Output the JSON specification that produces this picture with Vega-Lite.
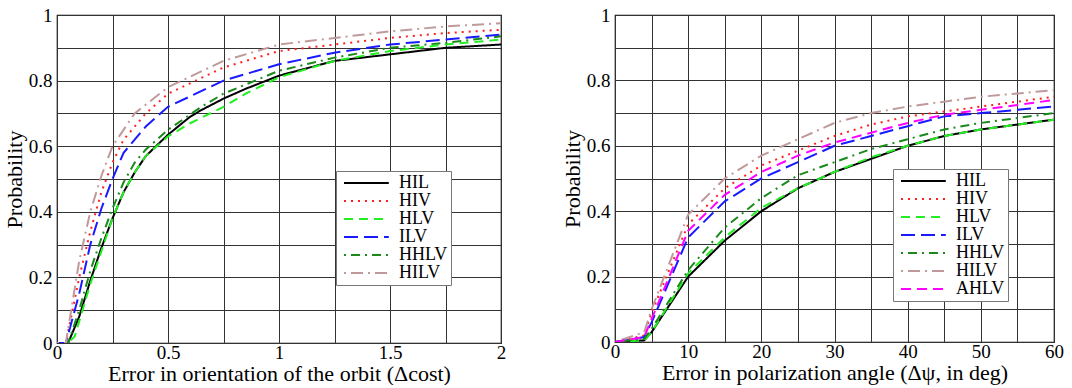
{
  "$schema": "https://vega.github.io/schema/vega-lite/v6.json",
  "padding": {"left": 2, "top": 5, "right": 10, "bottom": 0},
  "spacing": 53,
  "datasets": {
    "orbit": [
      {"s":"HIL","x":0,"y":0},{"s":"HIL","x":0.05,"y":0},{"s":"HIL","x":0.1,"y":0.08},{"s":"HIL","x":0.15,"y":0.19},{"s":"HIL","x":0.2,"y":0.29},{"s":"HIL","x":0.25,"y":0.38},{"s":"HIL","x":0.3,"y":0.46},{"s":"HIL","x":0.35,"y":0.52},{"s":"HIL","x":0.4,"y":0.57},{"s":"HIL","x":0.5,"y":0.635},{"s":"HIL","x":0.6,"y":0.69},{"s":"HIL","x":0.65,"y":0.71},{"s":"HIL","x":0.75,"y":0.745},{"s":"HIL","x":0.85,"y":0.775},{"s":"HIL","x":1.0,"y":0.815},{"s":"HIL","x":1.25,"y":0.86},{"s":"HIL","x":1.5,"y":0.88},{"s":"HIL","x":1.75,"y":0.9},{"s":"HIL","x":2.0,"y":0.91},
      {"s":"HIV","x":0,"y":0},{"s":"HIV","x":0.04,"y":0},{"s":"HIV","x":0.1,"y":0.2},{"s":"HIV","x":0.15,"y":0.34},{"s":"HIV","x":0.2,"y":0.46},{"s":"HIV","x":0.25,"y":0.55},{"s":"HIV","x":0.3,"y":0.62},{"s":"HIV","x":0.4,"y":0.7},{"s":"HIV","x":0.5,"y":0.76},{"s":"HIV","x":0.75,"y":0.84},{"s":"HIV","x":1.0,"y":0.89},{"s":"HIV","x":1.25,"y":0.91},{"s":"HIV","x":1.5,"y":0.93},{"s":"HIV","x":1.75,"y":0.945},{"s":"HIV","x":2.0,"y":0.955},
      {"s":"HLV","x":0,"y":0},{"s":"HLV","x":0.05,"y":0},{"s":"HLV","x":0.08,"y":0.02},{"s":"HLV","x":0.15,"y":0.18},{"s":"HLV","x":0.2,"y":0.28},{"s":"HLV","x":0.25,"y":0.38},{"s":"HLV","x":0.3,"y":0.46},{"s":"HLV","x":0.35,"y":0.52},{"s":"HLV","x":0.4,"y":0.57},{"s":"HLV","x":0.5,"y":0.63},{"s":"HLV","x":0.6,"y":0.67},{"s":"HLV","x":0.75,"y":0.72},{"s":"HLV","x":0.85,"y":0.76},{"s":"HLV","x":1.0,"y":0.81},{"s":"HLV","x":1.25,"y":0.86},{"s":"HLV","x":1.5,"y":0.89},{"s":"HLV","x":1.75,"y":0.91},{"s":"HLV","x":2.0,"y":0.925},
      {"s":"ILV","x":0,"y":0},{"s":"ILV","x":0.04,"y":0},{"s":"ILV","x":0.1,"y":0.15},{"s":"ILV","x":0.15,"y":0.3},{"s":"ILV","x":0.2,"y":0.41},{"s":"ILV","x":0.25,"y":0.5},{"s":"ILV","x":0.3,"y":0.58},{"s":"ILV","x":0.4,"y":0.66},{"s":"ILV","x":0.5,"y":0.72},{"s":"ILV","x":0.75,"y":0.8},{"s":"ILV","x":1.0,"y":0.85},{"s":"ILV","x":1.25,"y":0.885},{"s":"ILV","x":1.5,"y":0.91},{"s":"ILV","x":1.75,"y":0.925},{"s":"ILV","x":2.0,"y":0.94},
      {"s":"HHLV","x":0,"y":0},{"s":"HHLV","x":0.05,"y":0},{"s":"HHLV","x":0.1,"y":0.1},{"s":"HHLV","x":0.15,"y":0.22},{"s":"HHLV","x":0.2,"y":0.32},{"s":"HHLV","x":0.25,"y":0.41},{"s":"HHLV","x":0.3,"y":0.49},{"s":"HHLV","x":0.35,"y":0.55},{"s":"HHLV","x":0.4,"y":0.59},{"s":"HHLV","x":0.5,"y":0.65},{"s":"HHLV","x":0.65,"y":0.72},{"s":"HHLV","x":0.75,"y":0.76},{"s":"HHLV","x":1.0,"y":0.83},{"s":"HHLV","x":1.25,"y":0.87},{"s":"HHLV","x":1.5,"y":0.9},{"s":"HHLV","x":1.75,"y":0.915},{"s":"HHLV","x":2.0,"y":0.935},
      {"s":"HILV","x":0,"y":0},{"s":"HILV","x":0.04,"y":0},{"s":"HILV","x":0.1,"y":0.25},{"s":"HILV","x":0.15,"y":0.4},{"s":"HILV","x":0.2,"y":0.51},{"s":"HILV","x":0.25,"y":0.6},{"s":"HILV","x":0.35,"y":0.7},{"s":"HILV","x":0.5,"y":0.78},{"s":"HILV","x":0.75,"y":0.86},{"s":"HILV","x":1.0,"y":0.91},{"s":"HILV","x":1.25,"y":0.93},{"s":"HILV","x":1.5,"y":0.95},{"s":"HILV","x":1.75,"y":0.965},{"s":"HILV","x":2.0,"y":0.975}
    ],
    "pol": [
      {"s":"HIL","x":0,"y":0},{"s":"HIL","x":4,"y":0.005},{"s":"HIL","x":5,"y":0.03},{"s":"HIL","x":10,"y":0.2},{"s":"HIL","x":15,"y":0.31},{"s":"HIL","x":20,"y":0.4},{"s":"HIL","x":25,"y":0.47},{"s":"HIL","x":30,"y":0.52},{"s":"HIL","x":35,"y":0.56},{"s":"HIL","x":40,"y":0.6},{"s":"HIL","x":45,"y":0.63},{"s":"HIL","x":50,"y":0.65},{"s":"HIL","x":55,"y":0.665},{"s":"HIL","x":60,"y":0.68},
      {"s":"HIV","x":0,"y":0},{"s":"HIV","x":4,"y":0.02},{"s":"HIV","x":5,"y":0.09},{"s":"HIV","x":10,"y":0.36},{"s":"HIV","x":15,"y":0.47},{"s":"HIV","x":20,"y":0.54},{"s":"HIV","x":25,"y":0.585},{"s":"HIV","x":30,"y":0.63},{"s":"HIV","x":35,"y":0.665},{"s":"HIV","x":40,"y":0.69},{"s":"HIV","x":45,"y":0.705},{"s":"HIV","x":50,"y":0.72},{"s":"HIV","x":55,"y":0.735},{"s":"HIV","x":60,"y":0.75},
      {"s":"HLV","x":0,"y":0},{"s":"HLV","x":4,"y":0.005},{"s":"HLV","x":5,"y":0.03},{"s":"HLV","x":10,"y":0.21},{"s":"HLV","x":15,"y":0.32},{"s":"HLV","x":20,"y":0.41},{"s":"HLV","x":25,"y":0.47},{"s":"HLV","x":30,"y":0.52},{"s":"HLV","x":35,"y":0.565},{"s":"HLV","x":40,"y":0.6},{"s":"HLV","x":45,"y":0.63},{"s":"HLV","x":50,"y":0.65},{"s":"HLV","x":55,"y":0.665},{"s":"HLV","x":60,"y":0.68},
      {"s":"ILV","x":0,"y":0},{"s":"ILV","x":4,"y":0.015},{"s":"ILV","x":5,"y":0.06},{"s":"ILV","x":10,"y":0.32},{"s":"ILV","x":15,"y":0.43},{"s":"ILV","x":20,"y":0.5},{"s":"ILV","x":25,"y":0.55},{"s":"ILV","x":30,"y":0.6},{"s":"ILV","x":35,"y":0.63},{"s":"ILV","x":40,"y":0.66},{"s":"ILV","x":45,"y":0.69},{"s":"ILV","x":50,"y":0.7},{"s":"ILV","x":55,"y":0.71},{"s":"ILV","x":60,"y":0.72},
      {"s":"HHLV","x":0,"y":0},{"s":"HHLV","x":4,"y":0.01},{"s":"HHLV","x":5,"y":0.04},{"s":"HHLV","x":10,"y":0.22},{"s":"HHLV","x":15,"y":0.35},{"s":"HHLV","x":20,"y":0.44},{"s":"HHLV","x":25,"y":0.51},{"s":"HHLV","x":30,"y":0.55},{"s":"HHLV","x":35,"y":0.59},{"s":"HHLV","x":40,"y":0.62},{"s":"HHLV","x":45,"y":0.65},{"s":"HHLV","x":50,"y":0.67},{"s":"HHLV","x":55,"y":0.685},{"s":"HHLV","x":60,"y":0.7},
      {"s":"HILV","x":0,"y":0},{"s":"HILV","x":4,"y":0.03},{"s":"HILV","x":5,"y":0.1},{"s":"HILV","x":10,"y":0.39},{"s":"HILV","x":15,"y":0.5},{"s":"HILV","x":20,"y":0.57},{"s":"HILV","x":25,"y":0.62},{"s":"HILV","x":30,"y":0.67},{"s":"HILV","x":35,"y":0.7},{"s":"HILV","x":40,"y":0.72},{"s":"HILV","x":45,"y":0.735},{"s":"HILV","x":50,"y":0.75},{"s":"HILV","x":55,"y":0.76},{"s":"HILV","x":60,"y":0.77},
      {"s":"AHLV","x":0,"y":0},{"s":"AHLV","x":4,"y":0.015},{"s":"AHLV","x":5,"y":0.07},{"s":"AHLV","x":10,"y":0.34},{"s":"AHLV","x":15,"y":0.45},{"s":"AHLV","x":20,"y":0.52},{"s":"AHLV","x":25,"y":0.57},{"s":"AHLV","x":30,"y":0.61},{"s":"AHLV","x":35,"y":0.64},{"s":"AHLV","x":40,"y":0.67},{"s":"AHLV","x":45,"y":0.695},{"s":"AHLV","x":50,"y":0.71},{"s":"AHLV","x":55,"y":0.725},{"s":"AHLV","x":60,"y":0.74}
    ]
  },
  "hconcat": [
    {
      "width": 444,
      "height": 328,
      "data": {"name": "orbit"},
      "mark": {"type": "line", "strokeWidth": 2, "clip": true},
      "encoding": {
        "x": {"field": "x", "type": "quantitative", "scale": {"domain": [0, 2], "nice": false},
              "axis": {"title": "Error in orientation of the orbit (Δcost)", "values": [0,0.25,0.5,0.75,1,1.25,1.5,1.75,2],
                       "labelFont": "Liberation Serif",
                       "labelExpr": "abs(datum.value*2 - round(datum.value*2)) < 0.001 ? format(datum.value, '~g') : ''"}},
        "y": {"field": "y", "type": "quantitative", "scale": {"domain": [0, 1], "nice": false},
              "axis": {"title": "Probability", "values": [0,0.1,0.2,0.3,0.4,0.5,0.6,0.7,0.8,0.9,1],
                       "labelFont": "Liberation Serif",
                       "labelExpr": "abs(datum.value*5 - round(datum.value*5)) < 0.001 ? format(datum.value, '~g') : ''"}},
        "color": {"field": "s", "type": "nominal",
                  "scale": {"domain": ["HIL","HIV","HLV","ILV","HHLV","HILV"], "range": ["#000000","#ff2020","#22ee22","#1a1aff","#1a8a1a","#c09a9a"]},
                  "legend": {"orient": "none", "legendX": 279, "legendY": 156, "title": null}},
        "strokeDash": {"field": "s", "type": "nominal",
                  "scale": {"domain": ["HIL","HIV","HLV","ILV","HHLV","HILV"], "range": [[1,0],[2,5],[9,6],[14,6],[2,5,9,5],[2,5,12,5]]},
                  "legend": {"orient": "none", "legendX": 279, "legendY": 156, "title": null}}
      }
    },
    {
      "width": 439,
      "height": 327,
      "data": {"name": "pol"},
      "mark": {"type": "line", "strokeWidth": 2, "clip": true},
      "encoding": {
        "x": {"field": "x", "type": "quantitative", "scale": {"domain": [0, 60], "nice": false},
              "axis": {"title": "Error in polarization angle (Δψ, in deg)", "values": [0,5,10,15,20,25,30,35,40,45,50,55,60],
                       "labelFont": "Liberation Serif",
                       "labelExpr": "datum.value % 10 == 0 ? format(datum.value, 'd') : ''"}},
        "y": {"field": "y", "type": "quantitative", "scale": {"domain": [0, 1], "nice": false},
              "axis": {"title": "Probability", "values": [0,0.1,0.2,0.3,0.4,0.5,0.6,0.7,0.8,0.9,1],
                       "labelFont": "Liberation Serif",
                       "labelExpr": "abs(datum.value*5 - round(datum.value*5)) < 0.001 ? format(datum.value, '~g') : ''"}},
        "color": {"field": "s", "type": "nominal",
                  "scale": {"domain": ["HIL","HIV","HLV","ILV","HHLV","HILV","AHLV"], "range": ["#000000","#ff2020","#22ee22","#1a1aff","#1a8a1a","#c09a9a","#ff00ff"]},
                  "legend": {"orient": "none", "legendX": 278, "legendY": 154, "title": null}},
        "strokeDash": {"field": "s", "type": "nominal",
                  "scale": {"domain": ["HIL","HIV","HLV","ILV","HHLV","HILV","AHLV"], "range": [[1,0],[2,5],[9,6],[14,6],[2,5,9,5],[2,5,12,5],[10,6]]},
                  "legend": {"orient": "none", "legendX": 278, "legendY": 154, "title": null}}
      }
    }
  ],
  "resolve": {"scale": {"color": "independent", "strokeDash": "independent"}, "legend": {"color": "independent", "strokeDash": "independent"}},
  "config": {
    "font": "Liberation Serif",
    "view": {"stroke": "#000000", "strokeWidth": 1.2},
    "axis": {
      "labelFont": "Liberation Serif", "titleFont": "Liberation Serif",
      "labelFontSize": 19, "titleFontSize": 22, "titleFontWeight": "normal",
      "labelColor": "#000000", "titleColor": "#000000",
      "grid": true, "gridColor": "#333333", "gridOpacity": 1, "gridWidth": 1,
      "ticks": false, "domain": false, "labelFlush": false, "labelOverlap": false
    },
    "axisX": {"titlePadding": 1, "labelPadding": 0},
    "axisY": {"titlePadding": 2, "labelPadding": 5},
    "legend": {
      "fillColor": "#ffffff", "strokeColor": "#777777", "padding": 3,
      "labelFont": "Liberation Serif", "labelFontSize": 18, "labelColor": "#000000",
      "symbolType": "M-0.5,0H5.1", "symbolStrokeWidth": 2, "symbolSize": 256,
      "rowPadding": -4, "labelOffset": 42
    }
  }
}
